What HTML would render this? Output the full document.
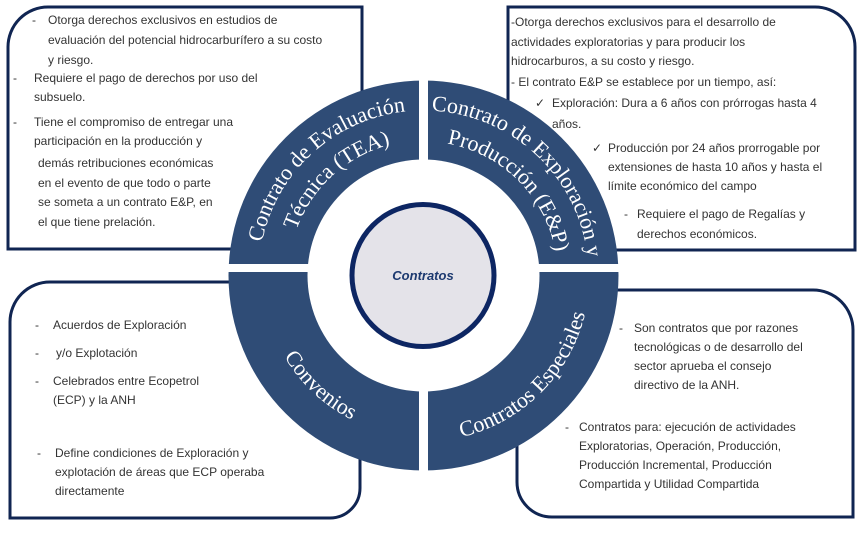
<!DOCTYPE html>
<html><head><meta charset="utf-8"><style>
html,body{margin:0;padding:0;background:#fff;}
svg{display:block;}
.t{font-family:"Liberation Sans",sans-serif;font-size:12px;fill:#333;}
.c{font-family:"Liberation Serif",serif;font-size:22px;fill:#fff;}
</style></head><body>
<svg width="862" height="534" viewBox="0 0 862 534" xmlns="http://www.w3.org/2000/svg">
<defs>
<path id="pTL1" d="M258.5,275.5 A165,165 0 0 1 423.5,110.5"/>
<path id="pTL2" d="M288.5,275.5 A135,135 0 0 1 423.5,140.5"/>
<path id="pTR1" d="M423.5,110.5 A165,165 0 0 1 586,304"/>
<path id="pTR2" d="M423.5,141.5 A134,134 0 0 1 557.5,275.5"/>
<path id="pBL" d="M262.5,275.5 A161,161 0 0 0 423.5,436.5"/>
<path id="pBR" d="M423.5,441.5 A166,166 0 0 0 589.5,275.5"/>
</defs>
<g fill="#fff" stroke="#102552" stroke-width="3">
<path d="M8,249 L8,47 A40,40 0 0 1 48,7 L362,7 L362,249 Z"/>
<path d="M508,7 L815,7 A40,40 0 0 1 855,47 L855,250 L508,250 Z"/>
<path d="M10,322 A40,40 0 0 1 50,282 L360,282 L360,488 A30,30 0 0 1 330,518 L10,518 Z"/>
<path d="M517,290 L813,290 A40,40 0 0 1 853,330 L853,517 L552,517 A35,35 0 0 1 517,482 Z"/>
</g>
<circle cx="423.5" cy="275.5" r="195" fill="#2f4c76"/>
<circle cx="423.5" cy="275.5" r="116" fill="#fff"/>
<text class="c"><textPath href="#pTL1" startOffset="53%" text-anchor="middle">Contrato de Evaluación</textPath></text>
<text class="c"><textPath href="#pTL2" startOffset="53%" text-anchor="middle">Técnica (TEA)</textPath></text>
<text class="c"><textPath href="#pTR1" startOffset="8">Contrato de Exploración y</textPath></text>
<text class="c"><textPath href="#pTR2" startOffset="50%" text-anchor="middle">Producción (E&amp;P)</textPath></text>
<text class="c"><textPath href="#pBL" startOffset="52%" text-anchor="middle">Convenios</textPath></text>
<text class="c"><textPath href="#pBR" startOffset="50%" text-anchor="middle">Contratos Especiales</textPath></text>
<rect x="419" y="75" width="9" height="400" fill="#fff"/>
<rect x="225" y="264" width="400" height="8" fill="#fff"/>
<rect x="620" y="255" width="10" height="30" fill="#fff"/>
<circle cx="423" cy="275.5" r="71" fill="#e4e3e9" stroke="#0d2663" stroke-width="5"/>
<text x="423" y="280" text-anchor="middle" style="font-family:'Liberation Sans',sans-serif;font-size:13px;font-weight:bold;font-style:italic;fill:#1d3a70">Contratos</text>

<g class="t">
<text x="32" y="24">-</text><text x="48" y="24">Otorga derechos exclusivos en estudios de</text>
<text x="48" y="44">evaluación del potencial hidrocarburífero a su costo</text>
<text x="48" y="64">y riesgo.</text>
<text x="13" y="82">-</text><text x="34" y="82">Requiere el pago de derechos por uso del</text>
<text x="34" y="101">subsuelo.</text>
<text x="13" y="126">-</text><text x="34" y="126">Tiene el compromiso de entregar  una</text>
<text x="34" y="145">participación en la producción y</text>
<text x="38" y="167">demás retribuciones económicas</text>
<text x="38" y="187">en el evento de que todo o parte</text>
<text x="38" y="206">se someta a un contrato E&amp;P, en</text>
<text x="38" y="226">el que tiene prelación.</text>

<text x="511" y="26">-Otorga derechos exclusivos para el desarrollo de</text>
<text x="511" y="46">actividades exploratorias y para producir los</text>
<text x="511" y="65">hidrocarburos, a su costo y riesgo.</text>
<text x="511" y="86">- El contrato E&amp;P se establece  por un tiempo, así:</text>
<text x="535" y="107">✓</text><text x="552" y="107">Exploración: Dura a 6 años con prórrogas hasta 4</text>
<text x="552" y="128">años.</text>
<text x="592" y="152">✓</text><text x="608" y="152">Producción  por 24 años prorrogable por</text>
<text x="608" y="171">extensiones de hasta 10 años y hasta el</text>
<text x="608" y="190">límite económico del campo</text>
<text x="624" y="218">-</text><text x="637" y="218">Requiere el pago de Regalías y</text>
<text x="637" y="238">derechos económicos.</text>

<text x="35" y="329">-</text><text x="53" y="329">Acuerdos de Exploración</text>
<text x="35" y="357">-</text><text x="56" y="357">y/o Explotación</text>
<text x="35" y="385">-</text><text x="53" y="385">Celebrados entre Ecopetrol</text>
<text x="53" y="404">(ECP) y la ANH</text>
<text x="37" y="457">-</text><text x="55" y="457">Define condiciones de Exploración y</text>
<text x="55" y="476">explotación de áreas que ECP operaba</text>
<text x="55" y="495">directamente</text>

<text x="619" y="332">-</text><text x="634" y="332">Son contratos que por razones</text>
<text x="634" y="351">tecnológicas o de desarrollo del</text>
<text x="634" y="370">sector aprueba el consejo</text>
<text x="634" y="389">directivo de la ANH.</text>
<text x="565" y="431">-</text><text x="579" y="431">Contratos para: ejecución de actividades</text>
<text x="579" y="450">Exploratorias, Operación, Producción,</text>
<text x="579" y="469">Producción Incremental, Producción</text>
<text x="579" y="488">Compartida y Utilidad Compartida</text>
</g>
</svg>
</body></html>
